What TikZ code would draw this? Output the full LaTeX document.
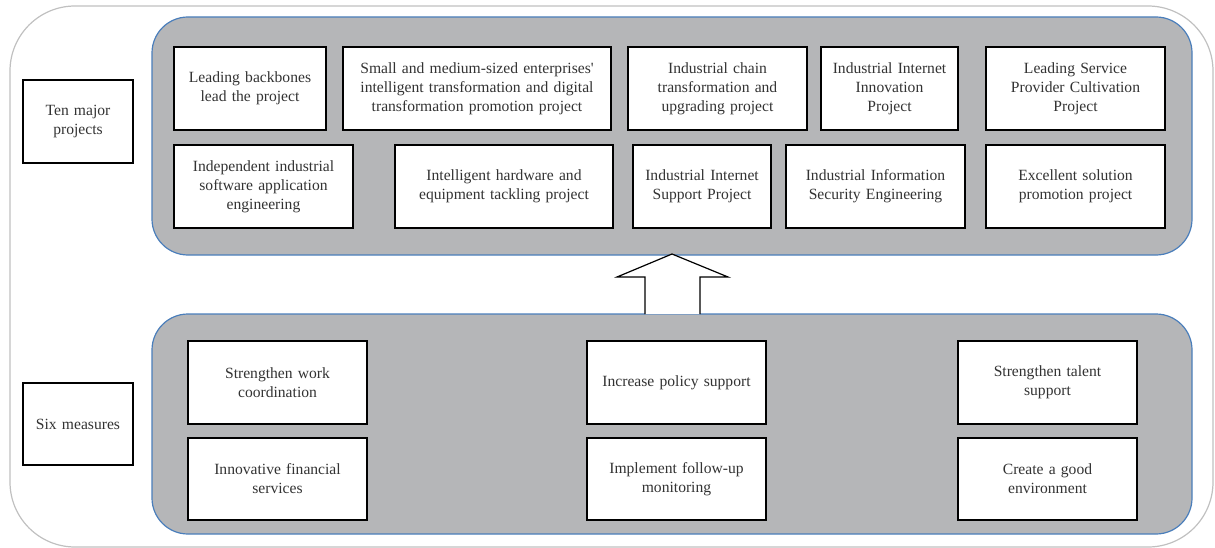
\documentclass[tikz,border=0pt]{standalone}
\usepackage{fontspec}
\setmainfont{Liberation Serif}
\definecolor{panelfill}{HTML}{B5B6B8}
\definecolor{panelblue}{HTML}{4A7EBB}
\definecolor{outerline}{HTML}{C0C0C0}
\definecolor{txt}{HTML}{333333}
\tikzset{
  panel/.style={draw=panelblue, fill=panelfill, line width=1.2pt, rounded corners=36pt},
  box/.style={draw=black, fill=white, line width=1.2pt, inner sep=0pt, align=center, text=txt,
    font=\fontsize{15.6}{19}\selectfont},
}
\begin{document}
\begin{tikzpicture}[x=1pt,y=-1pt]
\useasboundingbox (0,0) rectangle (1215,548);
\draw[outerline, line width=1.2pt, rounded corners=65pt] (10,6) rectangle (1213,547);
\draw[panel] (152,17) rectangle (1192,255);
\draw[panel] (152,314) rectangle (1192,534);
% left labels
\node[box, minimum width=110pt, minimum height=83pt, text width=104pt] (ten) at (78,121.5) {Ten major\\projects};
\node[box, minimum width=110pt, minimum height=82pt, text width=104pt] (six) at (78,424) {Six measures};
% top row
\node[box, minimum width=152pt, minimum height=83pt, text width=148pt] (p1) at (250,88.5) {Leading backbones\\lead the project};
\node[box, minimum width=268pt, minimum height=83pt, text width=264pt] (p2) at (477,88.5) {Small and medium-sized enterprises\textquotesingle\\intelligent transformation and digital\\transformation promotion project};
\node[box, minimum width=179pt, minimum height=83pt, text width=175pt] (p3) at (717.5,88.5) {Industrial chain\\transformation and\\upgrading project};
\node[box, minimum width=137pt, minimum height=83pt, text width=134pt] (p4) at (889.5,88.5) {Industrial Internet\\Innovation\\Project};
\node[box, minimum width=179pt, minimum height=83pt, text width=175pt] (p5) at (1075.5,88.5) {Leading Service\\Provider Cultivation\\Project};
% second row
\node[box, minimum width=179pt, minimum height=83pt, text width=175pt] (q1) at (263.5,186.5) {Independent industrial\\software application\\engineering};
\node[box, minimum width=218pt, minimum height=83pt, text width=214pt] (q2) at (504,186.5) {Intelligent hardware and\\equipment tackling project};
\node[box, minimum width=138pt, minimum height=83pt, text width=135pt] (q3) at (702,186.5) {Industrial Internet\\Support Project};
\node[box, minimum width=179pt, minimum height=83pt, text width=175pt] (q4) at (875.5,186.5) {Industrial Information\\Security Engineering};
\node[box, minimum width=179pt, minimum height=83pt, text width=175pt] (q5) at (1075.5,186.5) {Excellent solution\\promotion project};
% bottom measures
\node[box, minimum width=179pt, minimum height=83pt, text width=175pt] (m1) at (277.5,382.5) {Strengthen work\\coordination};
\node[box, minimum width=179pt, minimum height=83pt, text width=175pt] (m2) at (676.5,382.5) {Increase policy support};
\node[box, minimum width=179pt, minimum height=83pt, text width=175pt] (m3) at (1047.5,382.5) {Strengthen talent\\support};
\node[box, minimum width=179pt, minimum height=82pt, text width=175pt] (m4) at (277.5,479) {Innovative financial\\services};
\node[box, minimum width=179pt, minimum height=82pt, text width=175pt] (m5) at (676.5,479) {Implement follow-up\\monitoring};
\node[box, minimum width=179pt, minimum height=82pt, text width=175pt] (m6) at (1047.5,479) {Create a good\\environment};
% block arrow
\draw[fill=white, line width=1.2pt, line join=miter] (645,314) -- (645,277) -- (617,277) -- (672,254) -- (728,277) -- (700,277) -- (700,314);
\end{tikzpicture}
\end{document}
